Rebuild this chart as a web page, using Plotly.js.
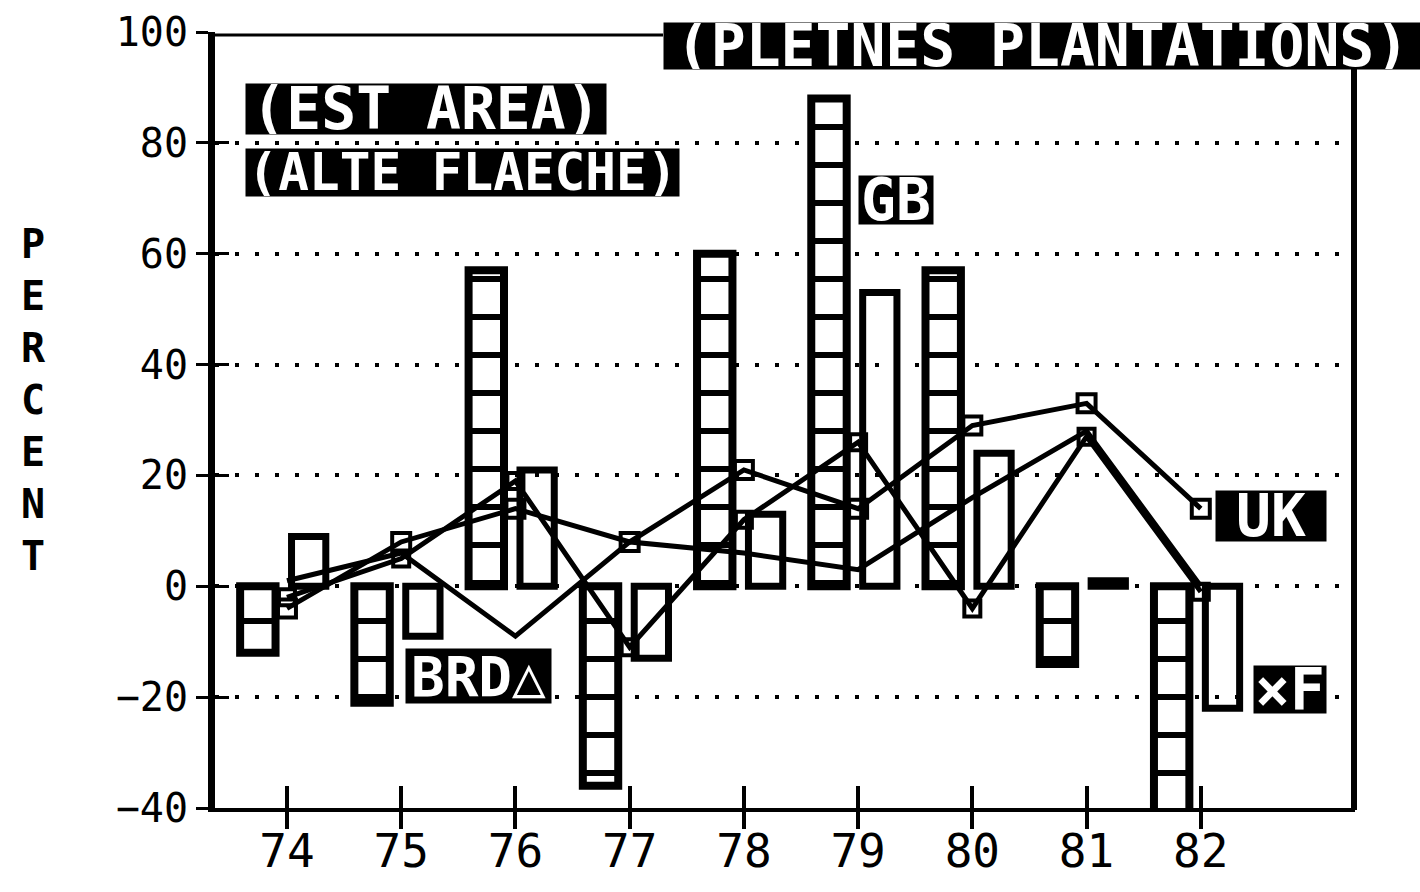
<!DOCTYPE html>
<html><head><meta charset="utf-8">
<script src="https://cdn.plot.ly/plotly-3.0.1.min.js"></script>
<style>html,body{margin:0;padding:0;background:#fff;} #chart{width:1420px;height:892px;}</style>
</head><body><div id="chart"></div>
<script>
// ---- data ----
const years = [74, 75, 76, 77, 78, 79, 80, 81, 82];
const yearLabels = ["74", "75", "76", "77", "78", "79", "80", "81", "82"];
const hatchedBars = [-12, -21, 57, -36, 60, 88, 57, -14, -42];
const openBars = [9, -9, 21, -13, 13, 53, 24, 1, -22];
const seriesUK = [-4, 8, 14, 8, 21, 14, 29, 33, 14];
const seriesF = [-2, 5, 19, -11, 12, 26, -4, 27, -1];
const seriesBRD = [1, 6, -9, 8, 6, 3, 16, 28, 0];
const yTickVals = [-40, -20, 0, 20, 40, 60, 80, 100];
const yTickText = ["\u221240", "\u221220", "0", "20", "40", "60", "80", "100"];
const titleText = "(PLETNES PLANTATIONS)";
const boxLabel1 = "(EST AREA)";
const boxLabel2 = "(ALTE FLAECHE)";
const labelGB = "GB";
const labelBRD = "BRD\u25B3";
const labelUK = "UK";
const labelF = "\u00D7F";
const yTitle = "PERCENT";

// ---- layout helpers ----
const L = 215, R = 1355, T = 32, B = 808;
const px = x => (x - L) / (R - L);
const py = y => (B - y) / (B - T);
const MONO = "DejaVu Sans Mono";
const XR = [73.37, 83.35];

function box(text, x0, y0, x1, y1, size) {
  return {
    xref: 'paper', yref: 'paper', x: px(x0), y: py(y0), xanchor: 'left', yanchor: 'top',
    width: x1 - x0, height: y1 - y0, text: text, showarrow: false, bgcolor: 'black',
    borderpad: 0, align: 'center', valign: 'middle',
    font: {family: MONO, size: size, color: 'white', weight: 'bold'}
  };
}

const traces = [
  {
    type: 'bar', x: years, y: hatchedBars, width: 0.31, offset: -0.41,
    marker: {color: 'white', line: {color: 'black', width: 8},
      pattern: {shape: '-', fgcolor: 'black', fgopacity: 1, bgcolor: 'white', size: 38, solidity: 0.16, fillmode: 'overlay'}},
    hoverinfo: 'x+y', showlegend: false
  },
  {
    type: 'bar', x: years, y: openBars, width: 0.30, offset: 0.04,
    marker: {color: 'rgba(0,0,0,0)', line: {color: 'black', width: 7}},
    hoverinfo: 'x+y', showlegend: false
  },
  {
    type: 'scatter', mode: 'lines', x: years, y: seriesBRD, name: 'BRD',
    line: {color: 'black', width: 5}, showlegend: false
  },
  {
    type: 'scatter', mode: 'lines+markers', x: years, y: seriesF, name: 'F',
    line: {color: 'black', width: 5},
    marker: {symbol: 'square-open', size: 16, color: 'black', line: {width: 4, color: 'black'}},
    showlegend: false
  },
  {
    type: 'scatter', mode: 'lines+markers', x: years, y: seriesUK, name: 'UK',
    line: {color: 'black', width: 5},
    marker: {symbol: 'square-open', size: 18, color: 'black', line: {width: 4, color: 'black'}},
    showlegend: false
  },
  {
    type: 'scatter', mode: 'lines', x: years, y: seriesUK, xaxis: 'x2', yaxis: 'y2',
    opacity: 0, hoverinfo: 'skip', showlegend: false, line: {width: 0}
  }
];

const layout = {
  width: 1420, height: 892,
  margin: {l: L, r: 1420 - R, t: T, b: 892 - B, pad: 0},
  paper_bgcolor: 'white', plot_bgcolor: 'white',
  barmode: 'overlay', showlegend: false,
  font: {family: MONO, color: 'black'},
  xaxis: {
    range: XR, tickmode: 'array', tickvals: years, ticktext: yearLabels,
    ticks: 'inside', ticklen: 22, tickwidth: 4, tickcolor: 'black',
    showline: true, linewidth: 4, linecolor: 'black',
    showgrid: false, zeroline: false, ticklabelstandoff: 0,
    tickfont: {family: MONO, size: 46, color: 'black'}
  },
  yaxis: {
    range: [-40, 100], tickmode: 'array', tickvals: yTickVals, ticktext: yTickText,
    ticks: 'outside', ticklen: 12, tickwidth: 3, tickcolor: 'black',
    showline: true, linewidth: 7, linecolor: 'black',
    showgrid: true, gridcolor: 'black', gridwidth: 4, griddash: '4px,16px',
    zeroline: false,
    tickfont: {family: MONO, size: 40, color: 'black'}
  },
  xaxis2: {
    overlaying: 'x', anchor: 'y2', side: 'bottom', range: XR,
    tickmode: 'array', tickvals: years, ticks: 'outside', ticklen: 20, tickwidth: 4, tickcolor: 'black',
    showticklabels: false, showgrid: false, zeroline: false, showline: false
  },
  yaxis2: {
    overlaying: 'y', anchor: 'x2', side: 'left', range: [-40, 100],
    tickmode: 'array', tickvals: yTickVals, ticks: 'inside', ticklen: 14, tickwidth: 3, tickcolor: 'black',
    showticklabels: false, showgrid: false, zeroline: false, showline: false
  },
  shapes: [
    {type: 'line', xref: 'paper', yref: 'paper', x0: px(211), x1: px(663), y0: py(35), y1: py(35),
      line: {color: 'black', width: 3}},
    {type: 'line', xref: 'paper', yref: 'paper', x0: px(1354), x1: px(1354), y0: py(810), y1: py(66),
      line: {color: 'black', width: 6}}
  ],
  annotations: [
    box(titleText, 663, 22, 1420, 68, 58),
    box(boxLabel1, 245, 83, 605, 133, 58),
    box(boxLabel2, 245, 148, 678, 195, 51),
    box(labelGB, 858, 175, 932, 223, 58),
    box(labelBRD, 405, 648, 550, 702, 56),
    box(labelUK, 1215, 490, 1325, 540, 58),
    box(labelF, 1253, 665, 1325, 712, 58),
    {
      xref: 'paper', yref: 'paper', x: px(33), y: py(400), xanchor: 'center', yanchor: 'middle',
      text: yTitle.split('').join('<br>'), showarrow: false,
      font: {family: MONO, size: 40, color: 'black', weight: 'bold'}
    }
  ]
};

Plotly.newPlot('chart', traces, layout, {staticPlot: true, displayModeBar: false});
</script>
</body></html>
